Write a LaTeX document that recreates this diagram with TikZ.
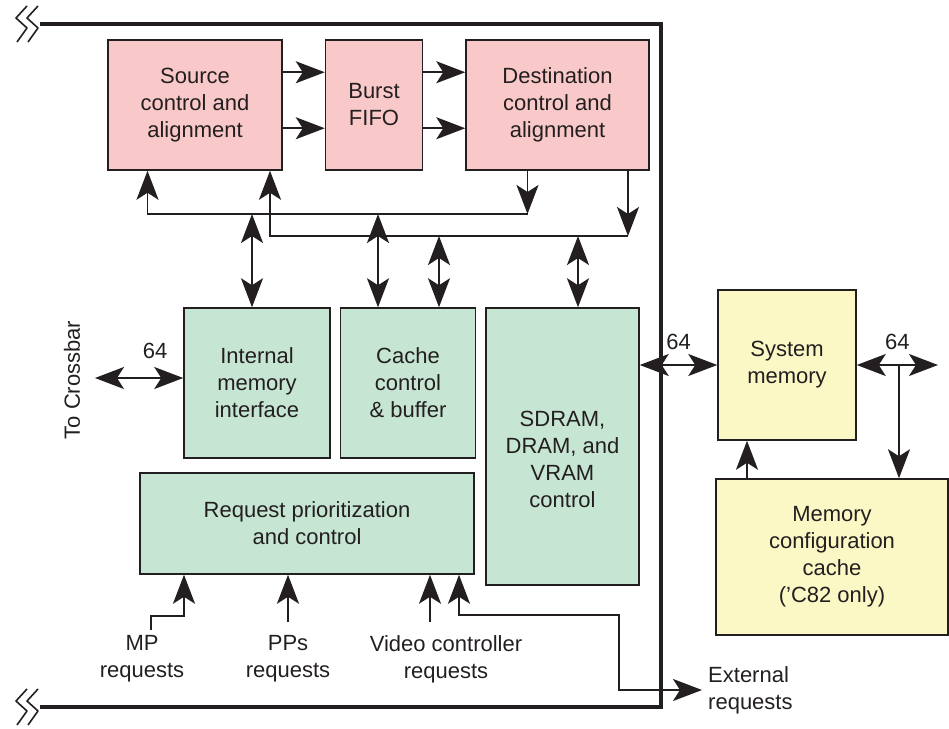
\documentclass[tikz,border=0pt]{standalone}
\usepackage{fontspec}
\setmainfont{Liberation Sans}
\usepackage{tikz}
\usetikzlibrary{arrows.meta,positioning,calc}
\definecolor{cink}{HTML}{231F20}
\definecolor{cpink}{HTML}{F9C8C8}
\definecolor{cgreen}{HTML}{C6E6D3}
\definecolor{cyellow}{HTML}{FBF8C6}

\begin{document}
\begin{tikzpicture}[x=1pt,y=-1pt,
  box/.style={rectangle,draw=cink,line width=1.5pt,align=center,inner sep=0pt,
              text=cink,font=\fontsize{22}{27}\selectfont},
  lbl/.style={text=cink,align=center,inner sep=0pt,font=\fontsize{22}{27}\selectfont},
  ar/.style={-{Stealth[length=29pt,width=22pt,inset=7pt]},line width=1.9pt,draw=cink},
  dar/.style={{Stealth[length=29pt,width=22pt,inset=7pt]}-{Stealth[length=29pt,width=22pt,inset=7pt]},
              line width=1.9pt,draw=cink},
  frame/.style={line width=3.5pt,draw=cink,line join=miter},
  brk/.style={line width=1.6pt,draw=cink}]
\useasboundingbox (0,0) rectangle (949,728);

% transfer controller blocks
\node[box,fill=cpink,minimum width=174pt,minimum height=130pt] (src) at (195,105) {Source\\control and\\alignment};
\node[box,fill=cpink,minimum width=97pt,minimum height=130pt,right=42pt of src] (burst) {Burst\\FIFO};
\node[box,fill=cpink,minimum width=183pt,minimum height=130pt,right=42pt of burst] (dest) {Destination\\control and\\alignment};

\node[box,fill=cgreen,minimum width=146pt,minimum height=150pt] (imi) at (257,383) {Internal\\memory\\interface};
\node[box,fill=cgreen,minimum width=135pt,minimum height=150pt,right=9pt of imi] (cache) {Cache\\control\\\& buffer};
\node[box,fill=cgreen,minimum width=153pt,minimum height=277pt,right=9pt of cache.north east,anchor=north west] (sdram) {};
\node[lbl] (sdramt) at ($(sdram.center)+(0,13)$) {SDRAM,\\DRAM, and\\VRAM\\control};
\node[box,fill=cgreen,minimum width=334pt,minimum height=101pt] (req) at (307,523.5) {Request prioritization\\and control};

% external memory
\node[box,fill=cyellow,minimum width=138pt,minimum height=150pt] (sysmem) at (787,365) {System\\memory};
\node[box,fill=cyellow,minimum width=232pt,minimum height=156pt] (mcc) at (832,557) {Memory\\configuration\\cache\\('C82 only)};

% labels
\node[lbl,rotate=90] (xbar) at (72,380) {To Crossbar};
\node[lbl] (mpt) at (142,659) {MP\\requests};
\node[lbl] (ppt) at (288,659) {PPs\\requests};
\node[lbl] (vct) at (446,659) {Video controller\\requests};
\node[lbl,anchor=west,align=left] (ext) at (708,690) {External\\requests};

% data paths between the top blocks
\draw[ar] ($(src.north east)+(0,33)$) -- ($(burst.north west)+(0,33)$);
\draw[ar] ($(src.north east)+(0,89)$) -- ($(burst.north west)+(0,89)$);
\draw[ar] ($(burst.north east)+(0,33)$) -- ($(dest.north west)+(0,33)$);
\draw[ar] ($(burst.north east)+(0,89)$) -- ($(dest.north west)+(0,89)$);

% the two buses
\coordinate (b1w) at (147.5,214); \coordinate (b1e) at (527.5,214);
\coordinate (b2w) at (270,236);   \coordinate (b2e) at (628,236);
\draw[ar] (dest.south -| b1e) -- (b1e);
\draw[ar] (b1e) -- (b1w) -- (src.south -| b1w);
\draw[ar] (dest.south -| b2e) -- (b2e);
\draw[ar] (b2e) -- (b2w) -- (src.south -| b2w);

\coordinate (t1) at (252,214); \coordinate (t2) at (378,214);
\coordinate (t3) at (439,236); \coordinate (t4) at (578,236);
\draw[dar] (t1) -- (t1 |- imi.north);
\draw[dar] (t2) -- (t2 |- cache.north);
\draw[dar] (t3) -- (t3 |- cache.north);
\draw[dar] (t4) -- (t4 |- sdram.north);

% crossbar and memory side
\coordinate (cb) at (95,378);
\draw[dar] (cb) -- (cb -| imi.west) node[lbl,pos=0.68,above=18pt] (n64a) {64};
\draw[dar] (sdram.east |- sysmem.west) -- (sysmem.west) node[lbl,midway,above=14pt] (n64b) {64};
\coordinate (smr) at (938,365);
\draw[dar] (sysmem.east) -- (smr) node[lbl,midway,above=14pt] (n64c) {64};
\coordinate (smd) at (899,365);
\draw[ar] (smd) -- (smd |- mcc.north);
\coordinate (mcu) at (747,479);
\draw[ar] (mcu |- mcc.north) -- (mcu |- sysmem.south);

% requests
\coordinate (mp) at (151,630); \coordinate (mpk) at (184,616);
\draw[ar] (mp) |- (mpk) -- (mpk |- req.south);
\coordinate (pp) at (288,622);
\draw[ar] (pp) -- (pp |- req.south);
\coordinate (vc) at (430,622);
\draw[ar] (vc) -- (vc |- req.south);
\coordinate (ex1) at (459,615); \coordinate (ex2) at (619,690); \coordinate (exe) at (702,690);
\draw[dar] (req.south -| ex1) -- (ex1) -| (ex2) -- (exe);

% frame with break marks
\coordinate (ftl) at (40,24);  \coordinate (ftr) at (661,24);
\coordinate (fbr) at (661,707); \coordinate (fbl) at (40,707);
\draw[frame] (ftl) -- (ftr) -- (fbr) -- (fbl);
\foreach \yc in {24,707}{
  \foreach \xo in {16,27}{
    \draw[brk,line join=round] ({\xo+11},{\yc-18}) -- (\xo,{\yc-6}) -- ({\xo+11},{\yc+4}) -- ({\xo+1},{\yc+18});
  }
}
\end{tikzpicture}
\end{document}
